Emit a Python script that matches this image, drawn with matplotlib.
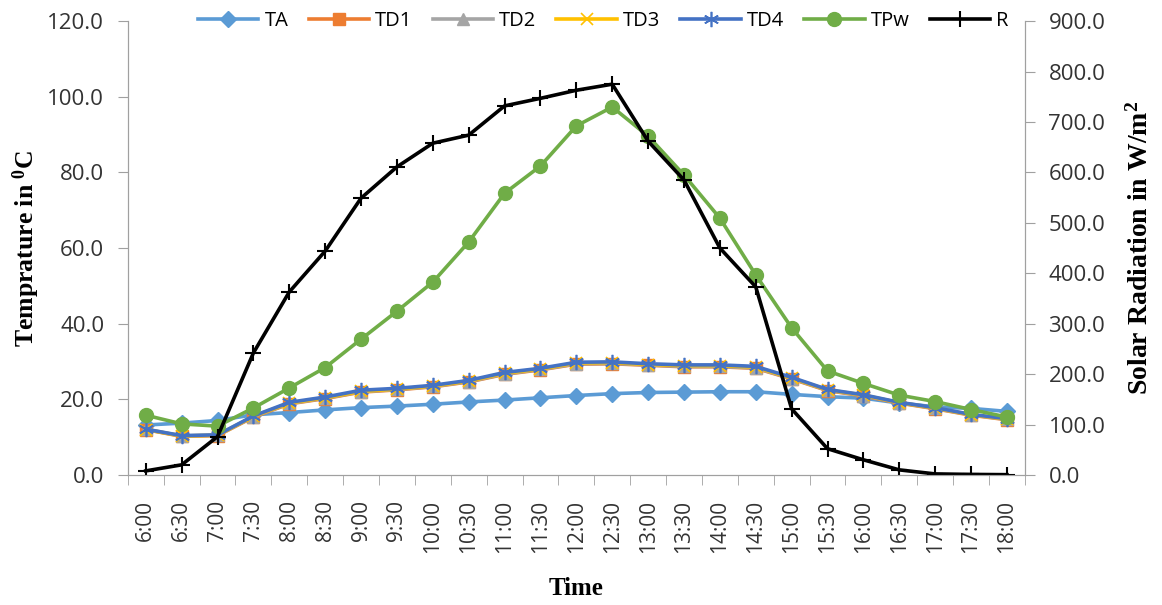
import matplotlib.pyplot as plt

plt.rcParams['mathtext.fontset'] = 'custom'
plt.rcParams['mathtext.rm'] = 'Liberation Serif'
plt.rcParams['mathtext.bf'] = 'Liberation Serif:bold'

# dados
horas = ['6:00', '6:30', '7:00', '7:30', '8:00', '8:30', '9:00', '9:30', '10:00',
         '10:30', '11:00', '11:30', '12:00', '12:30', '13:00', '13:30', '14:00',
         '14:30', '15:00', '15:30', '16:00', '16:30', '17:00', '17:30', '18:00']

TA = [13.2, 13.7, 14.4, 15.9, 16.5, 17.2, 17.8, 18.2, 18.7, 19.3, 19.8, 20.4, 21.0,
      21.5, 21.8, 21.9, 22.0, 22.0, 21.3, 20.7, 20.3, 19.0, 18.0, 17.6, 16.8]
TD1 = [12.0, 10.2, 10.4, 15.3, 18.8, 20.2, 21.9, 22.5, 23.3, 24.6, 26.6, 27.8, 29.3,
       29.4, 29.0, 28.6, 28.6, 28.2, 25.4, 22.3, 20.9, 19.0, 17.5, 15.8, 14.6]
TD2 = [12.1, 10.3, 10.5, 15.4, 18.9, 20.3, 22.0, 22.6, 23.4, 24.7, 26.7, 27.9, 29.4,
       29.5, 29.1, 28.7, 28.7, 28.3, 25.5, 22.4, 21.0, 19.1, 17.6, 15.9, 14.7]
TD3 = [12.0, 10.3, 10.5, 15.5, 19.0, 20.4, 22.1, 22.7, 23.5, 24.8, 26.9, 28.0, 29.6,
       29.7, 29.2, 28.9, 28.9, 28.5, 25.6, 22.5, 21.1, 19.1, 17.7, 15.9, 14.8]
TD4 = [12.1, 10.4, 10.6, 15.6, 19.2, 20.6, 22.4, 22.9, 23.7, 25.0, 27.1, 28.2, 29.8,
       29.9, 29.4, 29.1, 29.1, 28.7, 25.8, 22.6, 21.2, 19.2, 17.8, 16.0, 14.9]
TPw = [15.8, 13.5, 12.9, 17.7, 23.0, 28.4, 35.9, 43.3, 51.0, 61.6, 74.5, 81.7, 92.3,
       97.3, 89.6, 79.3, 67.9, 52.9, 38.9, 27.5, 24.2, 21.1, 19.4, 17.3, 15.3]
R = [8, 20, 76, 242, 363, 444, 549, 611, 658, 674, 732, 747, 763,
     775, 662, 585, 450, 373, 131, 52, 30, 10, 2, 1, 0.5]

x = list(range(len(horas)))

fig = plt.figure(figsize=(11.62, 6.05), dpi=100)
ax = fig.add_axes([0.110, 0.215, 0.772, 0.750])
ax2 = ax.twinx()

lw = 2.6
l1, = ax.plot(x, TA, color='#5B9BD5', lw=lw, marker='D', ms=8, label='TA')
l2, = ax.plot(x, TD1, color='#ED7D31', lw=lw, marker='s', ms=9, label='TD1')
l3, = ax.plot(x, TD2, color='#A5A5A5', lw=lw, marker='^', ms=9, label='TD2')
l4, = ax.plot(x, TD3, color='#FFC000', lw=lw, marker='x', ms=9, mew=1.2, label='TD3')
l5, = ax.plot(x, TD4, color='#4472C4', lw=lw, marker=(6, 2, 0), ms=11, mew=1.2, label='TD4')
l6, = ax.plot(x, TPw, color='#70AD47', lw=lw, marker='o', ms=10, label='TPw')
l7, = ax2.plot(x, R, color='black', lw=lw, marker='+', ms=12, mew=1.5, label='R')

ax.set_xlim(-0.5, len(horas) - 0.5)
ax.set_ylim(0, 120)
ax2.set_ylim(0, 900)
ax.set_yticks(range(0, 121, 20))
ax.set_yticklabels([f'{v:.1f}' for v in range(0, 121, 20)])
ax2.set_yticks(range(0, 901, 100))
ax2.set_yticklabels([f'{v:.1f}' for v in range(0, 901, 100)])

ax.set_xticks(x)
ax.set_xticklabels(horas, rotation=90)
ax.set_xticks([i - 0.5 for i in range(len(horas) + 1)], minor=True)
ax.tick_params(axis='x', which='major', length=0, pad=18)
ax.tick_params(axis='x', which='minor', length=7, color='#A0A0A0')

fonte = 'Open Sans'
for a in (ax, ax2):
    a.tick_params(axis='y', length=7, pad=10, color='#A0A0A0', labelsize=16, labelcolor='#333333')
    for lab in a.get_yticklabels():
        lab.set_family(fonte)
    a.spines['top'].set_visible(False)
    for s in ('left', 'right', 'bottom'):
        a.spines[s].set_color('#A0A0A0')
for lab in ax.get_xticklabels():
    lab.set_family(fonte)
    lab.set_fontsize(15)
    lab.set_color('#333333')

ax.set_xlabel('Time', family='Liberation Serif', fontweight='bold', fontsize=18, labelpad=17)
ax.set_ylabel(r'Temprature in $\mathbf{^0}$C', family='Liberation Serif', fontweight='bold',
              fontsize=18.5, labelpad=4)
ax2.set_ylabel(r'Solar Radiation in W/m$\mathbf{^2}$', family='Liberation Serif',
               fontweight='bold', fontsize=20, rotation=90, labelpad=16)

leg = ax2.legend(handles=[l1, l2, l3, l4, l5, l6, l7], loc='center',
                 bbox_to_anchor=(0.53, 1.0), ncol=7, frameon=False, handlelength=3,
                 columnspacing=1.0, handletextpad=0.3, prop={'family': fonte, 'size': 14.5})

fig.savefig('out.png', dpi=100)
